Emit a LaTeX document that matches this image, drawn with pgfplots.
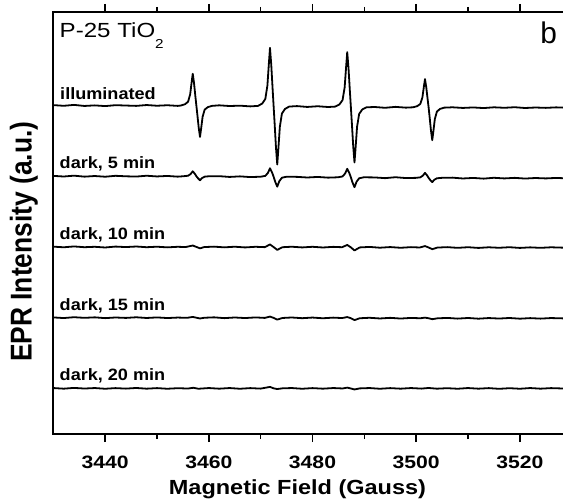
\documentclass[border=0pt]{standalone}
\usepackage{pgfplots}
\pgfplotsset{compat=1.18}
\usepackage{fontspec}
\setmainfont{Liberation Sans}
\usepackage{graphicx}

% original figure is slightly stretched horizontally
\newcommand{\hs}[2]{\scalebox{#1}[1]{#2}}

\pgfplotsset{spec/.style={black, line width=1.8bp, line join=round, no markers}}

\begin{document}
\begin{tikzpicture}
\begin{axis}[
  scale only axis,
  width=518.4bp, height=422bp,
  xmin=3430, xmax=3530,
  ymin=-0.646, ymax=5.323,
  axis line style={line width=1.6bp},
  xtick={3440,3460,3480,3500,3520},
  xticklabels={\hs{1.18}{3440},\hs{1.18}{3460},\hs{1.18}{3480},\hs{1.18}{3500},\hs{1.18}{3520}},
  minor xtick={3450,3470,3490,3510},
  ytick=\empty,
  tick align=outside,
  major tick length=8bp, minor tick length=5bp,
  tick style={line width=1.6bp, black},
  xticklabel style={font=\fontsize{18}{18}\selectfont\bfseries, yshift=-10bp},
  xlabel={\hs{1.15}{Magnetic Field (Gauss)}},
  xlabel style={font=\fontsize{20.5}{20.5}\selectfont\bfseries, at={(axis description cs:0.471,-0.1438)}, anchor=base},
  ylabel={\scalebox{1}[1.14]{EPR Intensity (a.u.)}},
  ylabel style={font=\fontsize{26.5}{26.5}\selectfont\bfseries, at={(axis description cs:-0.0417,0.4557)}, anchor=base},
]
% illuminated
\addplot[spec] coordinates {
(3430,4.006)(3432,3.996)(3434,4.009)(3436,3.994)(3438,4.002)(3440,3.992)(3442,4.005)(3444,4.000)(3446,3.995)(3448,4.007)(3450,3.997)(3452,4.004)(3454,3.995)
(3454.6,4.000)(3455.4,4.018)(3456.0,4.054)(3456.4,4.158)(3456.7,4.338)(3456.9,4.450)(3457.15,4.315)(3457.4,4.135)(3457.6,3.998)(3457.8,3.863)(3458.05,3.687)(3458.3,3.555)(3458.5,3.665)(3458.8,3.841)(3459.2,3.942)(3459.8,3.977)(3460.6,3.995)
(3462,4.003)(3464,3.993)(3466,3.998)(3468,3.988)
(3469.5,3.995)(3470.3,4.028)(3470.9,4.093)(3471.3,4.282)(3471.6,4.610)(3471.8,4.815)(3472.05,4.569)(3472.3,4.241)(3472.5,3.990)(3472.7,3.739)(3472.95,3.411)(3473.2,3.165)(3473.4,3.370)(3473.7,3.698)(3474.1,3.887)(3474.7,3.952)(3475.5,3.985)
(3477,3.992)(3479,3.980)(3481,3.990)(3483,3.979)
(3484.4,3.985)(3485.2,4.016)(3485.8,4.077)(3486.2,4.255)(3486.5,4.563)(3486.7,4.755)(3486.95,4.524)(3487.2,4.216)(3487.4,3.980)(3487.6,3.741)(3487.85,3.429)(3488.1,3.195)(3488.3,3.390)(3488.6,3.702)(3489.0,3.881)(3489.6,3.944)(3490.4,3.975)
(3492,3.979)(3494,3.968)(3496,3.981)(3498,3.970)
(3499.4,3.975)(3500.2,3.991)(3500.8,4.023)(3501.2,4.115)(3501.5,4.275)(3501.7,4.375)(3501.95,4.255)(3502.2,4.095)(3502.4,3.972)(3502.6,3.832)(3502.85,3.648)(3503.1,3.510)(3503.3,3.625)(3503.6,3.809)(3504.0,3.915)(3504.6,3.952)(3505.4,3.970)
(3507,3.975)(3509,3.966)(3511,3.973)(3513,3.964)(3515,3.975)(3517,3.968)(3519,3.976)(3521,3.965)(3523,3.972)(3525,3.967)(3527,3.974)(3529,3.969)
};
% dark, 5 min
\addplot[spec] coordinates {
(3430,3.005)(3432,2.996)(3434,3.008)(3436,2.994)(3438,3.003)(3440,2.993)(3442,3.006)(3444,2.999)(3446,2.995)(3448,3.007)(3450,2.997)(3452,3.004)(3454,2.994)
(3455.1,3.000)(3456.0,3.007)(3456.5,3.032)(3456.9,3.070)(3457.3,3.035)(3457.6,3.000)(3457.9,2.972)(3458.3,2.943)(3458.7,2.974)(3459.2,2.994)(3460.1,3.000)
(3462,3.001)(3464,2.990)(3466,2.998)(3468,2.988)
(3470.0,2.993)(3470.9,3.005)(3471.4,3.047)(3471.8,3.113)(3472.2,3.053)(3472.5,2.993)(3472.8,2.923)(3473.2,2.853)(3473.6,2.930)(3474.1,2.979)(3475.0,2.993)
(3477,2.991)(3479,2.982)(3481,2.990)(3483,2.980)
(3484.9,2.985)(3485.8,2.997)(3486.3,3.039)(3486.7,3.105)(3487.1,3.045)(3487.4,2.985)(3487.7,2.915)(3488.1,2.845)(3488.5,2.922)(3489.0,2.971)(3489.9,2.985)
(3492,2.983)(3494,2.973)(3496,2.986)(3498,2.974)
(3499.9,2.977)(3500.8,2.984)(3501.3,3.009)(3501.7,3.047)(3502.1,3.012)(3502.4,2.977)(3502.7,2.947)(3503.1,2.917)(3503.5,2.950)(3504.0,2.971)(3504.9,2.977)
(3507,2.980)(3509,2.968)(3511,2.976)(3513,2.966)(3515,2.978)(3517,2.969)(3519,2.977)(3521,2.967)(3523,2.975)(3525,2.969)(3527,2.976)(3529,2.970)
};
% dark, 10 min
\addplot[spec] coordinates {
(3430,2.004)(3432,1.995)(3434,2.007)(3436,1.996)(3438,2.002)(3440,1.992)(3442,2.005)(3444,1.998)(3446,2.006)(3448,1.996)(3450,2.003)(3452,1.994)(3454,2.002)(3455.5,1.998)
(3456.9,2.020)(3457.6,2.000)(3458.3,1.980)(3459.1,1.998)
(3461,2.004)(3463,1.994)(3465,2.003)(3467,1.993)(3469,2.002)(3470.8,1.997)
(3471.8,2.035)(3472.5,1.998)(3473.2,1.958)(3474.2,1.996)
(3476,2.003)(3478,1.993)(3480,2.002)(3482,1.992)(3484,2.001)(3485.7,1.996)
(3486.7,2.028)(3487.4,1.994)(3488.1,1.950)(3489.1,1.993)
(3491,2.000)(3493,1.989)(3495,1.998)(3497,1.988)(3499,1.997)(3500.7,1.992)
(3501.7,2.012)(3502.4,1.992)(3503.1,1.968)(3504.1,1.991)
(3506,1.997)(3508,1.987)(3510,1.996)(3512,1.986)(3514,1.995)(3516,1.988)(3518,1.996)(3520,1.986)(3522,1.994)(3524,1.987)(3526,1.995)(3529,1.988)
};
% dark, 15 min
\addplot[spec] coordinates {
(3430,1.003)(3432,0.994)(3434,1.006)(3436,0.997)(3438,1.004)(3440,0.993)(3442,1.002)(3444,0.996)(3446,1.005)(3448,0.995)(3450,1.003)(3452,0.994)(3454,1.001)(3455.8,0.997)
(3456.9,1.010)(3457.6,0.999)(3458.3,0.988)(3459.1,0.998)
(3461,1.004)(3463,0.993)(3465,1.002)(3467,0.994)(3469,1.003)(3470.8,0.996)
(3471.8,1.015)(3472.5,0.996)(3473.2,0.972)(3474.2,0.995)
(3476,1.002)(3478,0.992)(3480,1.001)(3482,0.991)(3484,1.000)(3485.7,0.994)
(3486.7,1.008)(3487.4,0.992)(3488.1,0.965)(3489.1,0.991)
(3491,0.998)(3493,0.988)(3495,0.997)(3497,0.987)(3499,0.996)(3500.8,0.991)
(3501.7,1.000)(3502.4,0.991)(3503.1,0.978)(3504.1,0.990)
(3506,0.996)(3508,0.986)(3510,0.995)(3512,0.985)(3514,0.994)(3516,0.987)(3518,0.995)(3520,0.985)(3522,0.993)(3524,0.986)(3526,0.994)(3529,0.988)
};
% dark, 20 min
\addplot[spec] coordinates {
(3430,0.004)(3432,-0.005)(3434,0.006)(3436,-0.003)(3438,0.004)(3440,-0.006)(3442,0.003)(3444,-0.004)(3446,0.005)(3448,-0.005)(3450,0.003)(3452,-0.006)(3454,0.002)(3456,-0.003)(3457,0.008)(3458,-0.006)(3460,0.004)(3462,-0.005)(3464,0.004)(3466,-0.006)(3468,0.003)(3470,-0.004)
(3471.8,0.020)(3472.5,0.000)(3473.2,-0.010)(3474.2,0.000)
(3476,0.004)(3478,-0.006)(3480,0.003)(3482,-0.005)(3484,0.004)(3485.8,-0.002)
(3486.7,0.010)(3487.4,-0.002)(3488.1,-0.016)(3489.1,-0.001)
(3491,0.004)(3493,-0.006)(3495,0.003)(3497,-0.005)(3499,0.004)(3501,-0.004)(3502.4,0.005)(3504,-0.005)(3506,0.002)(3508,-0.006)(3510,0.004)(3512,-0.005)(3514,0.003)(3516,-0.007)(3518,0.002)(3520,-0.006)(3522,0.004)(3524,-0.005)(3526,0.003)(3529,-0.004)
};
% anchor points for the bottom-axis ticks
\coordinate (M1) at (axis cs:3440,-0.646);
\coordinate (M2) at (axis cs:3460,-0.646);
\coordinate (M3) at (axis cs:3480,-0.646);
\coordinate (M4) at (axis cs:3500,-0.646);
\coordinate (M5) at (axis cs:3520,-0.646);
\coordinate (m1) at (axis cs:3450,-0.646);
\coordinate (m2) at (axis cs:3470,-0.646);
\coordinate (m3) at (axis cs:3490,-0.646);
\coordinate (m4) at (axis cs:3510,-0.646);
\node[anchor=base west, font=\fontsize{20.5}{20.5}\selectfont, inner sep=0pt] at (axis cs:3431.2,4.965) {\hs{1.18}{P-25 TiO\raisebox{-10.7bp}{\fontsize{13}{13}\selectfont 2}}};
\node[anchor=base east, font=\fontsize{30}{30}\selectfont, inner sep=0pt] at (axis cs:3527.2,4.88) {b};
\begin{scope}[every node/.style={anchor=base west, inner sep=0pt, font=\fontsize{16.5}{16.5}\selectfont\bfseries}]
\node at (axis cs:3431.3,4.085) {\hs{1.1}{illuminated}};
\node at (axis cs:3431.2,3.105) {\hs{1.1}{dark, 5 min}};
\node at (axis cs:3431.2,2.105) {\hs{1.1}{dark, 10 min}};
\node at (axis cs:3431.2,1.105) {\hs{1.1}{dark, 15 min}};
\node at (axis cs:3431.2,0.105) {\hs{1.1}{dark, 20 min}};
\end{scope}
\end{axis}
\foreach \n in {1,2,3,4,5} {\draw[line width=1.6bp] (M\n) -- ++(0,-8bp);}
\foreach \n in {1,2,3,4} {\draw[line width=1.6bp] (m\n) -- ++(0,-5bp);}
\pgfresetboundingbox
\useasboundingbox ([xshift=-53.3bp,yshift=-68bp]current axis.south west) rectangle ([xshift=-8.7bp,yshift=12bp]current axis.north east);
\end{tikzpicture}
\end{document}
